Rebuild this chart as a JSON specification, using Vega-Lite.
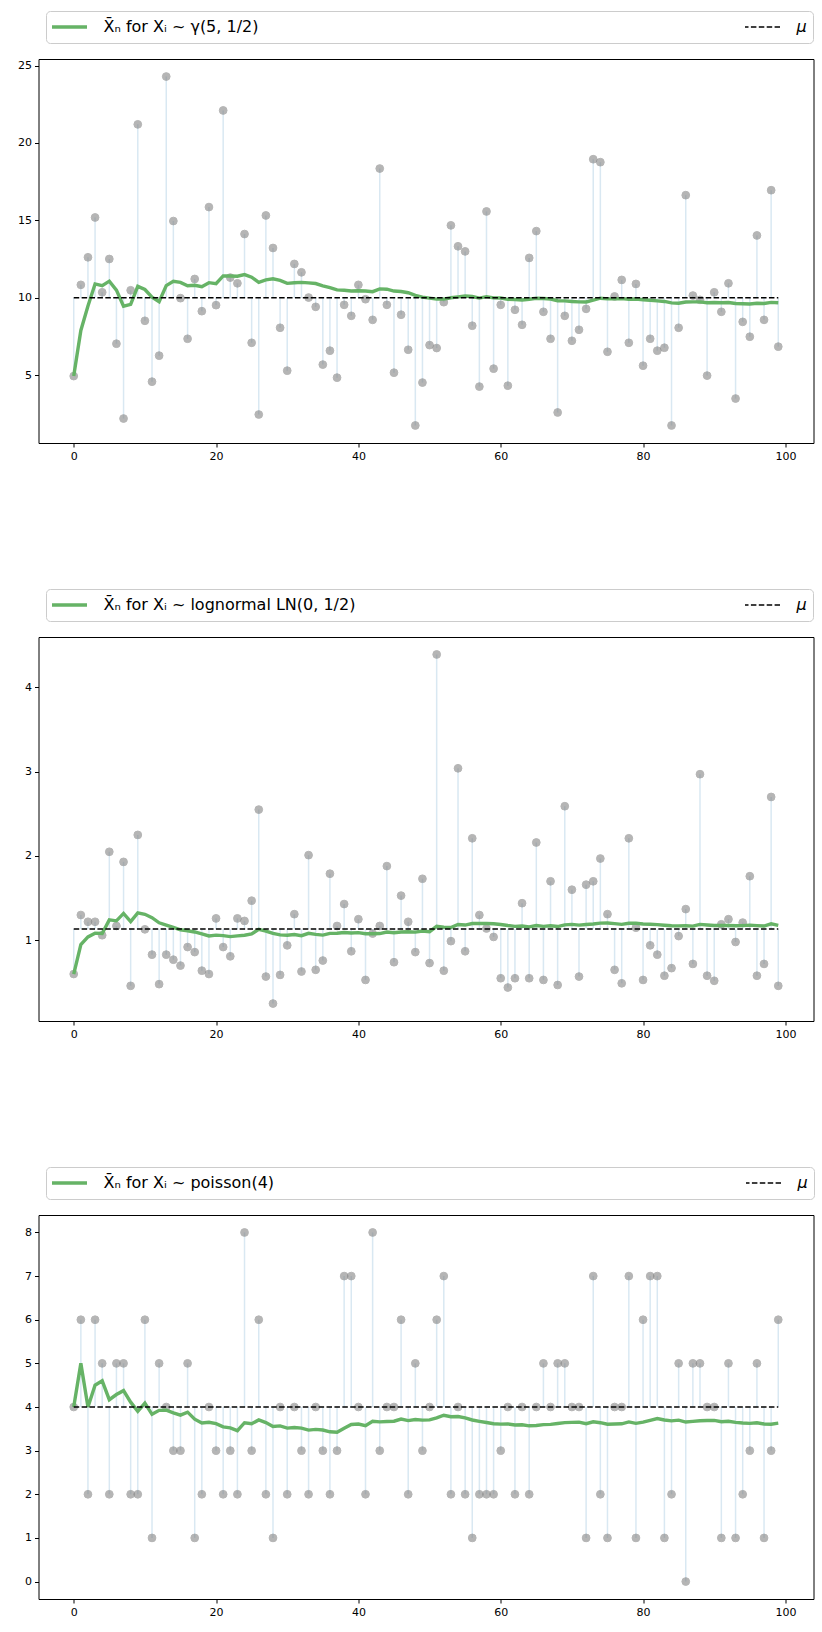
{
"$schema": "https://vega.github.io/schema/vega-lite/v6.json",
"padding": {"left": 7.5, "top": 10, "right": 0, "bottom": 0},
"autosize": {"type": "pad"},
"background": "white",
"config": {
  "view": {"stroke": "black", "strokeWidth": 1},
  "axis": {"domain": false, "grid": false, "ticks": true, "tickColor": "black", "tickSize": 4, "tickWidth": 1, "labelFont": "DejaVu Sans", "labelFontSize": 11, "labelColor": "black", "labelPadding": 3, "title": null},
  "axisY": {"minExtent": 30, "maxExtent": 30},
  "axisX": {"minExtent": 20, "maxExtent": 20},
  "legend": {"title": null, "orient": "none", "legendX": 7.5, "legendY": -48, "direction": "horizontal", "columns": 2, "symbolType": "stroke", "symbolSize": 1369, "clipHeight": 20, "symbolOffset": 8.5, "labelFontSize": 16, "labelFont": "DejaVu Sans", "labelColor": "black", "labelOffset": 27, "labelLimit": 500, "padding": 6, "strokeColor": "#cccccc", "fillColor": "white", "cornerRadius": 4}
},
"spacing": 124,
"resolve": {"scale": {"color": "independent"}, "legend": {"color": "independent"}},
"datasets": {
"gamma": [
{"i":0,"x":4.95,"m":4.95},{"i":1,"x":10.84,"m":7.895},{"i":2,"x":12.62,"m":9.47},{"i":3,"x":15.19,"m":10.9},{"i":4,"x":10.36,"m":10.792},{"i":5,"x":12.51,"m":11.078},{"i":6,"x":7.04,"m":10.501},{"i":7,"x":2.21,"m":9.465},{"i":8,"x":10.49,"m":9.579},{"i":9,"x":21.2,"m":10.741},
{"i":10,"x":8.52,"m":10.539},{"i":11,"x":4.59,"m":10.043},{"i":12,"x":6.27,"m":9.753},{"i":13,"x":24.29,"m":10.791},{"i":14,"x":14.96,"m":11.069},{"i":15,"x":9.98,"m":11.001},{"i":16,"x":7.36,"m":10.787},{"i":17,"x":11.22,"m":10.811},{"i":18,"x":9.14,"m":10.723},{"i":19,"x":15.86,"m":10.98},
{"i":20,"x":9.53,"m":10.911},{"i":21,"x":22.1,"m":11.42},{"i":22,"x":11.31,"m":11.415},{"i":23,"x":10.94,"m":11.395},{"i":24,"x":14.12,"m":11.504},{"i":25,"x":7.1,"m":11.335},{"i":26,"x":2.47,"m":11.006},{"i":27,"x":15.32,"m":11.16},{"i":28,"x":13.22,"m":11.231},{"i":29,"x":8.07,"m":11.126},
{"i":30,"x":5.3,"m":10.938},{"i":31,"x":12.19,"m":10.977},{"i":32,"x":11.65,"m":10.998},{"i":33,"x":10.02,"m":10.969},{"i":34,"x":9.42,"m":10.925},{"i":35,"x":5.69,"m":10.779},{"i":36,"x":6.59,"m":10.666},{"i":37,"x":4.85,"m":10.513},{"i":38,"x":9.55,"m":10.488},{"i":39,"x":8.84,"m":10.447},
{"i":40,"x":10.84,"m":10.457},{"i":41,"x":9.91,"m":10.443},{"i":42,"x":8.58,"m":10.4},{"i":43,"x":18.35,"m":10.581},{"i":44,"x":9.55,"m":10.558},{"i":45,"x":5.17,"m":10.441},{"i":46,"x":8.91,"m":10.408},{"i":47,"x":6.65,"m":10.33},{"i":48,"x":1.76,"m":10.155},{"i":49,"x":4.53,"m":10.043},
{"i":50,"x":6.95,"m":9.982},{"i":51,"x":6.76,"m":9.92},{"i":52,"x":9.72,"m":9.916},{"i":53,"x":14.68,"m":10.004},{"i":54,"x":13.33,"m":10.065},{"i":55,"x":13.0,"m":10.117},{"i":56,"x":8.2,"m":10.084},{"i":57,"x":4.27,"m":9.983},{"i":58,"x":15.58,"m":10.078},{"i":59,"x":5.43,"m":10.001},
{"i":60,"x":9.55,"m":9.993},{"i":61,"x":4.33,"m":9.902},{"i":62,"x":9.23,"m":9.891},{"i":63,"x":8.26,"m":9.866},{"i":64,"x":12.58,"m":9.908},{"i":65,"x":14.31,"m":9.974},{"i":66,"x":9.1,"m":9.961},{"i":67,"x":7.36,"m":9.923},{"i":68,"x":2.6,"m":9.817},{"i":69,"x":8.84,"m":9.803},
{"i":70,"x":7.23,"m":9.767},{"i":71,"x":7.94,"m":9.741},{"i":72,"x":9.29,"m":9.735},{"i":73,"x":18.95,"m":9.86},{"i":74,"x":18.76,"m":9.978},{"i":75,"x":6.52,"m":9.933},{"i":76,"x":10.09,"m":9.935},{"i":77,"x":11.16,"m":9.951},{"i":78,"x":7.1,"m":9.915},{"i":79,"x":10.9,"m":9.927},
{"i":80,"x":5.62,"m":9.874},{"i":81,"x":7.36,"m":9.843},{"i":82,"x":6.59,"m":9.804},{"i":83,"x":6.78,"m":9.768},{"i":84,"x":1.76,"m":9.674},{"i":85,"x":8.07,"m":9.655},{"i":86,"x":16.63,"m":9.735},{"i":87,"x":10.15,"m":9.74},{"i":88,"x":9.87,"m":9.741},{"i":89,"x":4.98,"m":9.688},
{"i":90,"x":10.36,"m":9.696},{"i":91,"x":9.1,"m":9.689},{"i":92,"x":10.94,"m":9.703},{"i":93,"x":3.5,"m":9.637},{"i":94,"x":8.45,"m":9.624},{"i":95,"x":7.49,"m":9.602},{"i":96,"x":14.03,"m":9.648},{"i":97,"x":8.58,"m":9.637},{"i":98,"x":16.95,"m":9.711},{"i":99,"x":6.85,"m":9.682}
],
"lognormal": [
{"i":0,"x":0.6,"m":0.6},{"i":1,"x":1.3,"m":0.95},{"i":2,"x":1.22,"m":1.04},{"i":3,"x":1.22,"m":1.085},{"i":4,"x":1.06,"m":1.08},{"i":5,"x":2.05,"m":1.242},{"i":6,"x":1.17,"m":1.231},{"i":7,"x":1.93,"m":1.319},{"i":8,"x":0.46,"m":1.223},{"i":9,"x":2.25,"m":1.326},
{"i":10,"x":1.13,"m":1.308},{"i":11,"x":0.83,"m":1.268},{"i":12,"x":0.48,"m":1.208},{"i":13,"x":0.83,"m":1.181},{"i":14,"x":0.77,"m":1.153},{"i":15,"x":0.7,"m":1.125},{"i":16,"x":0.92,"m":1.113},{"i":17,"x":0.86,"m":1.099},{"i":18,"x":0.64,"m":1.075},{"i":19,"x":0.6,"m":1.051},
{"i":20,"x":1.26,"m":1.061},{"i":21,"x":0.92,"m":1.055},{"i":22,"x":0.81,"m":1.044},{"i":23,"x":1.26,"m":1.053},{"i":24,"x":1.23,"m":1.06},{"i":25,"x":1.47,"m":1.076},{"i":26,"x":2.55,"m":1.13},{"i":27,"x":0.57,"m":1.11},{"i":28,"x":0.25,"m":1.081},{"i":29,"x":0.59,"m":1.064},
{"i":30,"x":0.94,"m":1.06},{"i":31,"x":1.31,"m":1.068},{"i":32,"x":0.63,"m":1.055},{"i":33,"x":2.01,"m":1.083},{"i":34,"x":0.65,"m":1.071},{"i":35,"x":0.76,"m":1.062},{"i":36,"x":1.79,"m":1.082},{"i":37,"x":1.17,"m":1.084},{"i":38,"x":1.43,"m":1.093},{"i":39,"x":0.87,"m":1.087},
{"i":40,"x":1.25,"m":1.091},{"i":41,"x":0.53,"m":1.078},{"i":42,"x":1.08,"m":1.078},{"i":43,"x":1.17,"m":1.08},{"i":44,"x":1.88,"m":1.098},{"i":45,"x":0.74,"m":1.09},{"i":46,"x":1.53,"m":1.099},{"i":47,"x":1.22,"m":1.102},{"i":48,"x":0.86,"m":1.097},{"i":49,"x":1.73,"m":1.11},
{"i":50,"x":0.73,"m":1.102},{"i":51,"x":4.39,"m":1.165},{"i":52,"x":0.64,"m":1.155},{"i":53,"x":0.99,"m":1.152},{"i":54,"x":3.04,"m":1.187},{"i":55,"x":0.87,"m":1.181},{"i":56,"x":2.21,"m":1.199},{"i":57,"x":1.3,"m":1.201},{"i":58,"x":1.14,"m":1.2},{"i":59,"x":1.04,"m":1.197},
{"i":60,"x":0.55,"m":1.187},{"i":61,"x":0.44,"m":1.175},{"i":62,"x":0.55,"m":1.165},{"i":63,"x":1.44,"m":1.169},{"i":64,"x":0.55,"m":1.159},{"i":65,"x":2.16,"m":1.175},{"i":66,"x":0.53,"m":1.165},{"i":67,"x":1.7,"m":1.173},{"i":68,"x":0.47,"m":1.163},{"i":69,"x":2.59,"m":1.183},
{"i":70,"x":1.6,"m":1.189},{"i":71,"x":0.57,"m":1.18},{"i":72,"x":1.66,"m":1.187},{"i":73,"x":1.7,"m":1.194},{"i":74,"x":1.97,"m":1.204},{"i":75,"x":1.31,"m":1.205},{"i":76,"x":0.65,"m":1.198},{"i":77,"x":0.49,"m":1.189},{"i":78,"x":2.21,"m":1.202},{"i":79,"x":1.15,"m":1.202},
{"i":80,"x":0.53,"m":1.193},{"i":81,"x":0.94,"m":1.19},{"i":82,"x":0.83,"m":1.186},{"i":83,"x":0.58,"m":1.179},{"i":84,"x":0.67,"m":1.173},{"i":85,"x":1.05,"m":1.171},{"i":86,"x":1.37,"m":1.173},{"i":87,"x":0.72,"m":1.168},{"i":88,"x":2.97,"m":1.189},{"i":89,"x":0.58,"m":1.182},
{"i":90,"x":0.52,"m":1.175},{"i":91,"x":1.19,"m":1.175},{"i":92,"x":1.25,"m":1.175},{"i":93,"x":0.98,"m":1.173},{"i":94,"x":1.21,"m":1.174},{"i":95,"x":1.76,"m":1.18},{"i":96,"x":0.58,"m":1.174},{"i":97,"x":0.72,"m":1.169},{"i":98,"x":2.7,"m":1.196},{"i":99,"x":0.46,"m":1.177}
],
"poisson": [
{"i":0,"x":4,"m":4},{"i":1,"x":6,"m":5},{"i":2,"x":2,"m":4},{"i":3,"x":6,"m":4.5},{"i":4,"x":5,"m":4.6},{"i":5,"x":2,"m":4.167},{"i":6,"x":5,"m":4.286},{"i":7,"x":5,"m":4.375},{"i":8,"x":2,"m":4.111},{"i":9,"x":2,"m":3.9},
{"i":10,"x":6,"m":4.091},{"i":11,"x":1,"m":3.833},{"i":12,"x":5,"m":3.923},{"i":13,"x":4,"m":3.929},{"i":14,"x":3,"m":3.867},{"i":15,"x":3,"m":3.813},{"i":16,"x":5,"m":3.882},{"i":17,"x":1,"m":3.722},{"i":18,"x":2,"m":3.632},{"i":19,"x":4,"m":3.65},
{"i":20,"x":3,"m":3.619},{"i":21,"x":2,"m":3.545},{"i":22,"x":3,"m":3.522},{"i":23,"x":2,"m":3.458},{"i":24,"x":8,"m":3.64},{"i":25,"x":3,"m":3.615},{"i":26,"x":6,"m":3.704},{"i":27,"x":2,"m":3.643},{"i":28,"x":1,"m":3.552},{"i":29,"x":4,"m":3.567},
{"i":30,"x":2,"m":3.516},{"i":31,"x":4,"m":3.531},{"i":32,"x":3,"m":3.515},{"i":33,"x":2,"m":3.471},{"i":34,"x":4,"m":3.486},{"i":35,"x":3,"m":3.472},{"i":36,"x":2,"m":3.432},{"i":37,"x":3,"m":3.421},{"i":38,"x":7,"m":3.513},{"i":39,"x":7,"m":3.6},
{"i":40,"x":4,"m":3.61},{"i":41,"x":2,"m":3.571},{"i":42,"x":8,"m":3.674},{"i":43,"x":3,"m":3.659},{"i":44,"x":4,"m":3.667},{"i":45,"x":4,"m":3.674},{"i":46,"x":6,"m":3.723},{"i":47,"x":2,"m":3.688},{"i":48,"x":5,"m":3.714},{"i":49,"x":3,"m":3.7},
{"i":50,"x":4,"m":3.706},{"i":51,"x":6,"m":3.75},{"i":52,"x":7,"m":3.811},{"i":53,"x":2,"m":3.778},{"i":54,"x":4,"m":3.782},{"i":55,"x":2,"m":3.75},{"i":56,"x":1,"m":3.702},{"i":57,"x":2,"m":3.672},{"i":58,"x":2,"m":3.644},{"i":59,"x":2,"m":3.617},
{"i":60,"x":3,"m":3.607},{"i":61,"x":4,"m":3.613},{"i":62,"x":2,"m":3.587},{"i":63,"x":4,"m":3.594},{"i":64,"x":2,"m":3.569},{"i":65,"x":4,"m":3.576},{"i":66,"x":5,"m":3.597},{"i":67,"x":4,"m":3.603},{"i":68,"x":5,"m":3.623},{"i":69,"x":5,"m":3.643},
{"i":70,"x":4,"m":3.648},{"i":71,"x":4,"m":3.653},{"i":72,"x":1,"m":3.616},{"i":73,"x":7,"m":3.662},{"i":74,"x":2,"m":3.64},{"i":75,"x":1,"m":3.605},{"i":76,"x":4,"m":3.61},{"i":77,"x":4,"m":3.615},{"i":78,"x":7,"m":3.658},{"i":79,"x":1,"m":3.625},
{"i":80,"x":6,"m":3.654},{"i":81,"x":7,"m":3.695},{"i":82,"x":7,"m":3.735},{"i":83,"x":1,"m":3.702},{"i":84,"x":2,"m":3.682},{"i":85,"x":5,"m":3.698},{"i":86,"x":0,"m":3.655},{"i":87,"x":5,"m":3.67},{"i":88,"x":5,"m":3.685},{"i":89,"x":4,"m":3.689},
{"i":90,"x":4,"m":3.692},{"i":91,"x":1,"m":3.663},{"i":92,"x":5,"m":3.674},{"i":93,"x":1,"m":3.649},{"i":94,"x":2,"m":3.632},{"i":95,"x":3,"m":3.625},{"i":96,"x":5,"m":3.639},{"i":97,"x":1,"m":3.612},{"i":98,"x":3,"m":3.606},{"i":99,"x":6,"m":3.63}
]
},
"vconcat": [
{
 "width": 775, "height": 384,
 "layer": [
  {"data": {"name": "gamma"}, "mark": {"type": "rule", "color": "#1f77b4", "opacity": 0.17, "strokeWidth": 1.5},
   "encoding": {
     "x": {"field": "i", "type": "quantitative", "scale": {"domain": [-4.95, 103.95], "nice": false, "zero": false}, "axis": {"values": [0, 20, 40, 60, 80, 100]}},
     "y": {"field": "x", "type": "quantitative", "scale": {"domain": [0.63, 25.42], "nice": false, "zero": false}, "axis": {"values": [5, 10, 15, 20, 25]}},
     "y2": {"datum": 10}}},
  {"data": {"name": "gamma"}, "mark": {"type": "circle", "size": 60, "color": "#808080", "opacity": 0.58, "stroke": "#808080", "strokeWidth": 1},
   "encoding": {"x": {"field": "i", "type": "quantitative"}, "y": {"field": "x", "type": "quantitative"}}},
  {"data": {"name": "gamma"}, "mark": {"type": "line", "strokeWidth": 3.4},
   "encoding": {"x": {"field": "i", "type": "quantitative"}, "y": {"field": "m", "type": "quantitative"},
     "color": {"datum": "X̄ₙ for Xᵢ ~ γ(5, 1/2)", "scale": {"domain": ["X̄ₙ for Xᵢ ~ γ(5, 1/2)", "μ"], "range": ["#66b366", "black"]},
       "legend": {"columnPadding": 486, "encode": {"symbols": {"update": {"strokeWidth": {"signal": "datum.value == 'μ' ? 1.5 : 3.4"}, "strokeDash": {"signal": "datum.value == 'μ' ? [5.5, 2.4] : [1, 0]"}}}, "labels": {"update": {"fontStyle": {"signal": "datum.value == 'μ' ? 'italic' : 'normal'"}}}}}}}},
  {"data": {"values": [{"mu": 10, "a": 0, "b": 99}]}, "mark": {"type": "rule", "strokeDash": [5.5, 2.4], "strokeWidth": 1.5},
   "encoding": {"x": {"field": "a", "type": "quantitative"}, "x2": {"field": "b"}, "y": {"field": "mu", "type": "quantitative"}, "color": {"datum": "μ"}}}
 ]
},
{
 "width": 775, "height": 384,
 "layer": [
  {"data": {"name": "lognormal"}, "mark": {"type": "rule", "color": "#1f77b4", "opacity": 0.17, "strokeWidth": 1.5},
   "encoding": {
     "x": {"field": "i", "type": "quantitative", "scale": {"domain": [-4.95, 103.95], "nice": false, "zero": false}, "axis": {"values": [0, 20, 40, 60, 80, 100]}},
     "y": {"field": "x", "type": "quantitative", "scale": {"domain": [0.043, 4.597], "nice": false, "zero": false}, "axis": {"values": [1, 2, 3, 4], "format": "d"}},
     "y2": {"datum": 1.1331}}},
  {"data": {"name": "lognormal"}, "mark": {"type": "circle", "size": 60, "color": "#808080", "opacity": 0.58, "stroke": "#808080", "strokeWidth": 1},
   "encoding": {"x": {"field": "i", "type": "quantitative"}, "y": {"field": "x", "type": "quantitative"}}},
  {"data": {"name": "lognormal"}, "mark": {"type": "line", "strokeWidth": 3.4},
   "encoding": {"x": {"field": "i", "type": "quantitative"}, "y": {"field": "m", "type": "quantitative"},
     "color": {"datum": "X̄ₙ for Xᵢ ~ lognormal LN(0, 1/2)", "scale": {"domain": ["X̄ₙ for Xᵢ ~ lognormal LN(0, 1/2)", "μ"], "range": ["#66b366", "black"]},
       "legend": {"columnPadding": 389, "encode": {"symbols": {"update": {"strokeWidth": {"signal": "datum.value == 'μ' ? 1.5 : 3.4"}, "strokeDash": {"signal": "datum.value == 'μ' ? [5.5, 2.4] : [1, 0]"}}}, "labels": {"update": {"fontStyle": {"signal": "datum.value == 'μ' ? 'italic' : 'normal'"}}}}}}}},
  {"data": {"values": [{"mu": 1.1331, "a": 0, "b": 99}]}, "mark": {"type": "rule", "strokeDash": [5.5, 2.4], "strokeWidth": 1.5},
   "encoding": {"x": {"field": "a", "type": "quantitative"}, "x2": {"field": "b"}, "y": {"field": "mu", "type": "quantitative"}, "color": {"datum": "μ"}}}
 ]
},
{
 "width": 775, "height": 384,
 "layer": [
  {"data": {"name": "poisson"}, "mark": {"type": "rule", "color": "#1f77b4", "opacity": 0.17, "strokeWidth": 1.5},
   "encoding": {
     "x": {"field": "i", "type": "quantitative", "scale": {"domain": [-4.95, 103.95], "nice": false, "zero": false}, "axis": {"values": [0, 20, 40, 60, 80, 100]}},
     "y": {"field": "x", "type": "quantitative", "scale": {"domain": [-0.4, 8.4], "nice": false, "zero": false}, "axis": {"values": [0, 1, 2, 3, 4, 5, 6, 7, 8]}},
     "y2": {"datum": 4}}},
  {"data": {"name": "poisson"}, "mark": {"type": "circle", "size": 60, "color": "#808080", "opacity": 0.58, "stroke": "#808080", "strokeWidth": 1},
   "encoding": {"x": {"field": "i", "type": "quantitative"}, "y": {"field": "x", "type": "quantitative"}}},
  {"data": {"name": "poisson"}, "mark": {"type": "line", "strokeWidth": 3.4},
   "encoding": {"x": {"field": "i", "type": "quantitative"}, "y": {"field": "m", "type": "quantitative"},
     "color": {"datum": "X̄ₙ for Xᵢ ~ poisson(4)", "scale": {"domain": ["X̄ₙ for Xᵢ ~ poisson(4)", "μ"], "range": ["#66b366", "black"]},
       "legend": {"columnPadding": 471, "encode": {"symbols": {"update": {"strokeWidth": {"signal": "datum.value == 'μ' ? 1.5 : 3.4"}, "strokeDash": {"signal": "datum.value == 'μ' ? [5.5, 2.4] : [1, 0]"}}}, "labels": {"update": {"fontStyle": {"signal": "datum.value == 'μ' ? 'italic' : 'normal'"}}}}}}}},
  {"data": {"values": [{"mu": 4, "a": 0, "b": 99}]}, "mark": {"type": "rule", "strokeDash": [5.5, 2.4], "strokeWidth": 1.5},
   "encoding": {"x": {"field": "a", "type": "quantitative"}, "x2": {"field": "b"}, "y": {"field": "mu", "type": "quantitative"}, "color": {"datum": "μ"}}}
 ]
}
]
}
